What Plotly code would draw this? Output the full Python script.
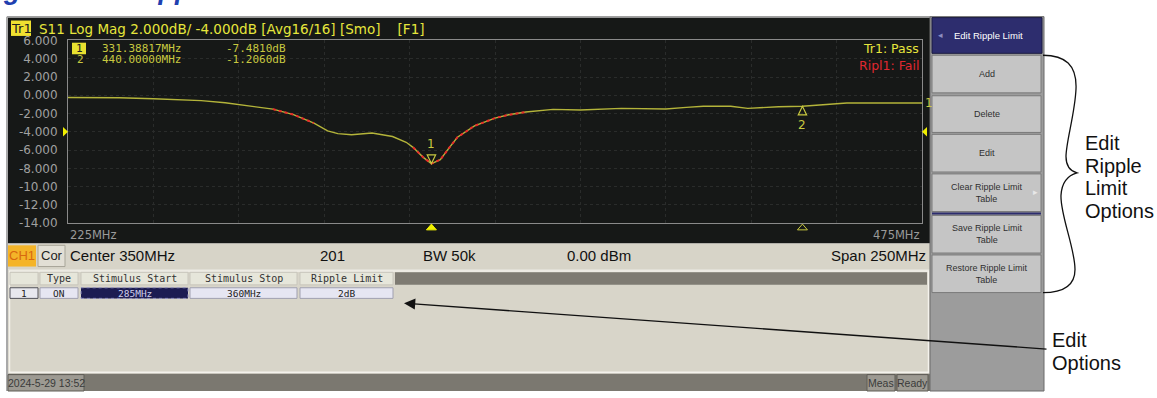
import numpy as np
import plotly.graph_objects as go

W, H = 1157, 398

# ---------------- data ----------------
freq_mhz = [225, 240, 250, 255, 264, 271, 277, 285, 291, 297, 301, 304, 308, 314,
            320, 324, 326, 329, 331.38817, 334, 336.4, 339, 344, 350, 354, 359,
            367, 375, 387, 400, 406, 411, 419, 424, 433, 440, 453, 475]
s11_db = [-0.24, -0.27, -0.38, -0.45, -0.59, -0.82, -1.10, -1.52, -2.12, -3.05,
          -3.90, -4.20, -4.33, -4.14, -4.52, -5.15, -5.70, -6.80, -7.481, -7.05,
          -5.85, -4.60, -3.35, -2.50, -2.14, -1.83, -1.54, -1.62, -1.44, -1.51,
          -1.33, -1.20, -1.20, -1.44, -1.26, -1.206, -0.84, -0.84]
fail_bands = [(285, 298), (326, 360)]
marker_freqs = [331.38817, 440.0]
marker_vals = [-7.4810, -1.2060]
marker_labels = ["1", "2"]
ref_level = -4.0
y_tick_vals = [6, 4, 2, 0, -2, -4, -6, -8, -10, -12, -14]
y_tick_text = ["6.000", "4.000", "2.000", "0.000", "-2.000", "-4.000", "-6.000",
               "-8.000", "-10.00", "-12.00", "-14.00"]
table_headers = ["", "Type", "Stimulus Start", "Stimulus Stop", "Ripple Limit"]
table_row = ["1", "ON", "285MHz", "360MHz", "2dB"]
softkeys = ["Add", "Delete", "Edit", "Clear Ripple Limit<br>Table",
            "Save Ripple Limit<br>Table", "Restore Ripple Limit<br>Table"]

# ---------------- helpers ----------------
def X(p):
    return p / W

def Y(p):
    return 1 - p / H

shapes = []
ann = []

def rect(x0, y0, x1, y1, fill, line=None, lw=1, dash=None):
    d = dict(type="rect", xref="paper", yref="paper", x0=X(x0), x1=X(x1),
             y0=Y(y1), y1=Y(y0), fillcolor=fill, layer="below",
             line=dict(width=lw if line else 0, color=line or fill))
    if dash:
        d["line"]["dash"] = dash
    shapes.append(d)

def text(x, y, s, size=12, color="#000", family="Liberation Sans", xanchor="left",
         yanchor="middle", **kw):
    ann.append(dict(x=X(x), y=Y(y), xref="paper", yref="paper", text=s,
                    showarrow=False, xanchor=xanchor, yanchor=yanchor,
                    font=dict(size=size, color=color, family=family), **kw))

OLIVE = "#c8c840"
YEL = "#e6e63c"

# ---------------- figure background pieces ----------------
# heading (cut off at the top: only descenders show)
ann.append(dict(x=X(-22), y=Y(0.5), xref="paper", yref="paper",
                text="<b><i>Figure 4-17 Ripple Limit</i></b>", showarrow=False,
                xanchor="left", yanchor="bottom",
                font=dict(size=27, color="#2040b0", family="Liberation Sans")))

# screen
rect(8, 11, 930, 245, "#161817")
shapes.append(dict(type="line", xref="paper", yref="paper", x0=X(7), x1=X(7),
                   y0=Y(10), y1=Y(398), line=dict(color="#8c8c8c", width=1.5), layer="below"))
shapes.append(dict(type="line", xref="paper", yref="paper", x0=X(7), x1=X(930),
                   y0=Y(10), y1=Y(10), line=dict(color="#a0a0a0", width=1.5), layer="below"))

# title bar
rect(11, 14, 31, 30, "#f0e030")
text(21, 22.5, "Tr1", 13, "#202020", "DejaVu Sans", "center")
text(37, 22.5, "S11 Log Mag 2.000dB/ -4.000dB [Avg16/16] [Smo]\u00a0\u00a0\u00a0 [F1]",
     13.5, YEL, "DejaVu Sans")

# marker readout
rect(72, 37, 86, 49, "#e8e030")
text(79, 43, "1", 11, "#202020", "DejaVu Sans Mono", "center")
text(80, 54.5, "2", 11, OLIVE, "DejaVu Sans Mono", "center")
for i, (f, v) in enumerate(zip(marker_freqs, marker_vals)):
    yy = 43 + 11.5 * i
    text(100, yy, f"{f:.5f}MHz", 11, OLIVE, "DejaVu Sans Mono")
    text(224, yy, f"{v:.4f}dB", 11, OLIVE, "DejaVu Sans Mono")

text(921, 43, "Tr1: Pass", 12.5, YEL, "DejaVu Sans", "right")
text(921, 61, "Ripl1: Fail", 12.5, "#e02830", "DejaVu Sans", "right")

# frequency labels
text(68, 236, "225MHz", 11.5, "#9a9a9a", "DejaVu Sans")
text(922, 236, "475MHz", 11.5, "#9a9a9a", "DejaVu Sans", "right")

# status bar
rect(8, 245, 930, 272, "#d7d4c8")
rect(8, 247, 36, 269, "#f4b428")
text(22, 258, "CH1", 13, "#d8680f", "Liberation Sans", "center")
rect(38, 247, 65, 269, "#e2dfd5", "#a8a598")
text(51.5, 258, "Cor", 13, "#222", "Liberation Sans", "center")
text(68, 258, "Center 350MHz", 15, "#111")
text(318, 258, "201", 15, "#111")
text(421, 258, "BW 50k", 15, "#111")
text(565, 258, "0.00 dBm", 15, "#111")
text(928, 258, "Span 250MHz", 15, "#111", xanchor="right")

# table panel
rect(8, 272, 930, 380, "#d8d5c9")
rect(9.5, 273.5, 928.5, 378.5, "rgba(0,0,0,0)", "#f4f2ec", 1.5)
rect(395, 275, 927, 288, "#7e7b72")
cols = [(10, 38), (40, 78), (81, 188), (190, 297), (300, 393)]
for (a, b), h in zip(cols, table_headers):
    rect(a, 275, b, 288, "#e6e6da", "#c8c6bc")
    text((a + b) / 2, 281.5, h, 10, "#333", "DejaVu Sans Mono", "center")
for i, ((a, b), v) in enumerate(zip(cols, table_row)):
    if i == 2:
        rect(a, 291, b, 302, "#1c1c52", "#9090c0", 1, "dot")
        col = "#d0d0ec"
    else:
        rect(a, 291, b, 302, "#e6e6f2" if i else "#e8e8ee", "#a0a0b0" if i else "#505058")
        col = "#222"
    text((a + b) / 2, 296.5, v, 9.5, col, "DejaVu Sans Mono", "center")

# bottom bar
rect(8, 380, 930, 398, "#7b7870")
rect(8, 381, 84, 398, "#9d9a92", "#5e5c55")
text(46, 390, "2024-5-29 13:52", 10.5, "#3a3a3a", "Liberation Sans", "center")
rect(867, 381, 895, 398, "#9d9a92", "#5e5c55")
text(881, 390, "Meas", 10.5, "#3a3a3a", "Liberation Sans", "center")
rect(897, 381, 928, 398, "#9d9a92", "#5e5c55")
text(912.5, 390, "Ready", 10.5, "#3a3a3a", "Liberation Sans", "center")

# softkey panel
rect(930, 10, 1044, 398, "#9c9c9c", "#6a6a6a")
rect(932, 11, 1042, 48, "#2d2d6e", "#1a1a40")
text(988, 29.5, "Edit Ripple Limit", 9.5, "#ffffff", "Liberation Sans", "center")
text(940, 29.5, "\u25c2", 9, "#8c8cc0", "DejaVu Sans", "center")
key_rows = [(50, 89), (92, 130), (132, 171), (173, 212), (216, 255), (257, 296)]
for (a, b), k in zip(key_rows, softkeys):
    rect(932, a, 1041, b, "#c5c5c5", "#7a7a7a")
    text(987, (a + b) / 2, k, 9, "#303030", "Liberation Sans", "center")
text(1035, 192, "\u25b8", 9, "#e8e8e8", "DejaVu Sans", "center")
rect(932, 213, 1041, 215, "#2d2d6e")

# right annotations
for i, w in enumerate(["Edit", "Ripple", "Limit", "Options"]):
    text(1083, 141 + 23.5 * i, w, 20, "#111")
for i, w in enumerate(["Edit", "Options"]):
    text(1050, 345 + 24 * i, w, 20, "#111")

# brace
bpts = "M 1043,50 C 1065,50 1077,60 1076,85 C 1075,110 1066,140 1066,155 " \
       "C 1066,165 1070,170 1077,172 C 1070,174 1062,180 1061,195 " \
       "C 1060,215 1075,250 1075,272 C 1075,288 1065,296 1043,296"
def conv(path):
    out = []
    for tok in path.split():
        if "," in tok:
            a, b = tok.split(",")
            out.append(f"{X(float(a)):.5f},{Y(float(b)):.5f}")
        else:
            out.append(tok)
    return " ".join(out)
shapes.append(dict(type="path", xref="paper", yref="paper", path=conv(bpts),
                   line=dict(color="#111", width=1.3), layer="above"))

# arrow from "Edit Options" to table
ann.append(dict(x=X(404), y=Y(307), xref="paper", yref="paper", ax=1048 - 404,
                ay=353 - 307, axref="pixel", ayref="pixel", showarrow=True,
                arrowhead=2, arrowsize=1.6, arrowwidth=1.4, arrowcolor="#111", text=""))

# ---------------- chart ----------------
fig = go.Figure()
fig.add_trace(go.Scatter(x=freq_mhz, y=s11_db, mode="lines",
                         line=dict(color="#b4b43a", width=1.4), hoverinfo="skip"))
f_arr = np.array(freq_mhz)
d_arr = np.array(s11_db)
for lo, hi in fail_bands:
    m = (f_arr >= lo) & (f_arr <= hi)
    fig.add_trace(go.Scatter(x=f_arr[m], y=d_arr[m], mode="lines",
                             line=dict(color="#e82a2a", width=2.0, dash="dot"),
                             hoverinfo="skip"))

px_per_db = (224 - 34.7) / 20.0
px_per_mhz = (922 - 68) / 250.0
hw = 4.2 / px_per_mhz
th = 9.0 / px_per_db
# marker 1: down triangle above trace; marker 2: up triangle below trace
for f, v, lab, k in zip(marker_freqs, marker_vals, marker_labels, [1, -1]):
    shapes.append(dict(type="path", xref="x", yref="y", layer="above",
                       path=f"M {f-hw},{v+k*th} L {f+hw},{v+k*th} L {f},{v} Z",
                       line=dict(color=OLIVE, width=1.2)))
    ann.append(dict(x=f, y=v + k * (th + 1.15), xref="x", yref="y", text=lab,
                    showarrow=False, font=dict(size=12, color=OLIVE, family="DejaVu Sans")))
# bottom marker indicators
for f, filled in zip(marker_freqs, [True, False]):
    shapes.append(dict(type="path", xref="x", yref="paper", layer="above",
                       path=f"M {f-5/px_per_mhz},{Y(231)} L {f},{Y(225)} L {f+5/px_per_mhz},{Y(231)} Z",
                       fillcolor="#f0f000" if filled else "rgba(0,0,0,0)",
                       line=dict(color="#f0f000" if filled else OLIVE, width=1)))
# reference level arrows
dd = 5 / px_per_db
shapes.append(dict(type="path", xref="paper", yref="y", layer="above",
                   path=f"M {X(63)},{ref_level+dd} L {X(68)},{ref_level} L {X(63)},{ref_level-dd} Z",
                   fillcolor="#f0f000", line=dict(width=0)))
shapes.append(dict(type="path", xref="paper", yref="y", layer="above",
                   path=f"M {X(927)},{ref_level+dd} L {X(922)},{ref_level} L {X(927)},{ref_level-dd} Z",
                   fillcolor="#f0f000", line=dict(width=0)))
ann.append(dict(x=X(923), y=s11_db[-1], xref="paper", yref="y", text="1", showarrow=False,
                xanchor="left", font=dict(size=12, color=OLIVE, family="DejaVu Sans")))

fig.update_layout(
    width=W, height=H, autosize=False,
    margin=dict(l=0, r=0, t=0, b=0, pad=0),
    paper_bgcolor="#ffffff", plot_bgcolor="#161817",
    showlegend=False, shapes=shapes, annotations=ann,
    xaxis=dict(domain=[X(68), X(922)], range=[225, 475], tick0=225, dtick=25,
               showticklabels=False, ticks="", showgrid=True, gridcolor="#2a2c2b",
               griddash="dot", zeroline=False, showline=True, linecolor="#8a8a8a",
               linewidth=1, mirror=True, fixedrange=True),
    yaxis=dict(domain=[Y(224), Y(34.7)], range=[-14, 6], tickvals=y_tick_vals,
               ticktext=y_tick_text, ticks="", ticklabelstandoff=7,
               tickfont=dict(size=12, color="#a0a0a0", family="DejaVu Sans"),
               showgrid=True, gridcolor="#2a2c2b", griddash="dot", zeroline=False,
               showline=True, linecolor="#8a8a8a", linewidth=1, mirror=True,
               fixedrange=True),
)
fig.write_html("out.html", config={"displayModeBar": False},
               post_script="document.body.style.margin='0';document.body.style.overflow='hidden';")
